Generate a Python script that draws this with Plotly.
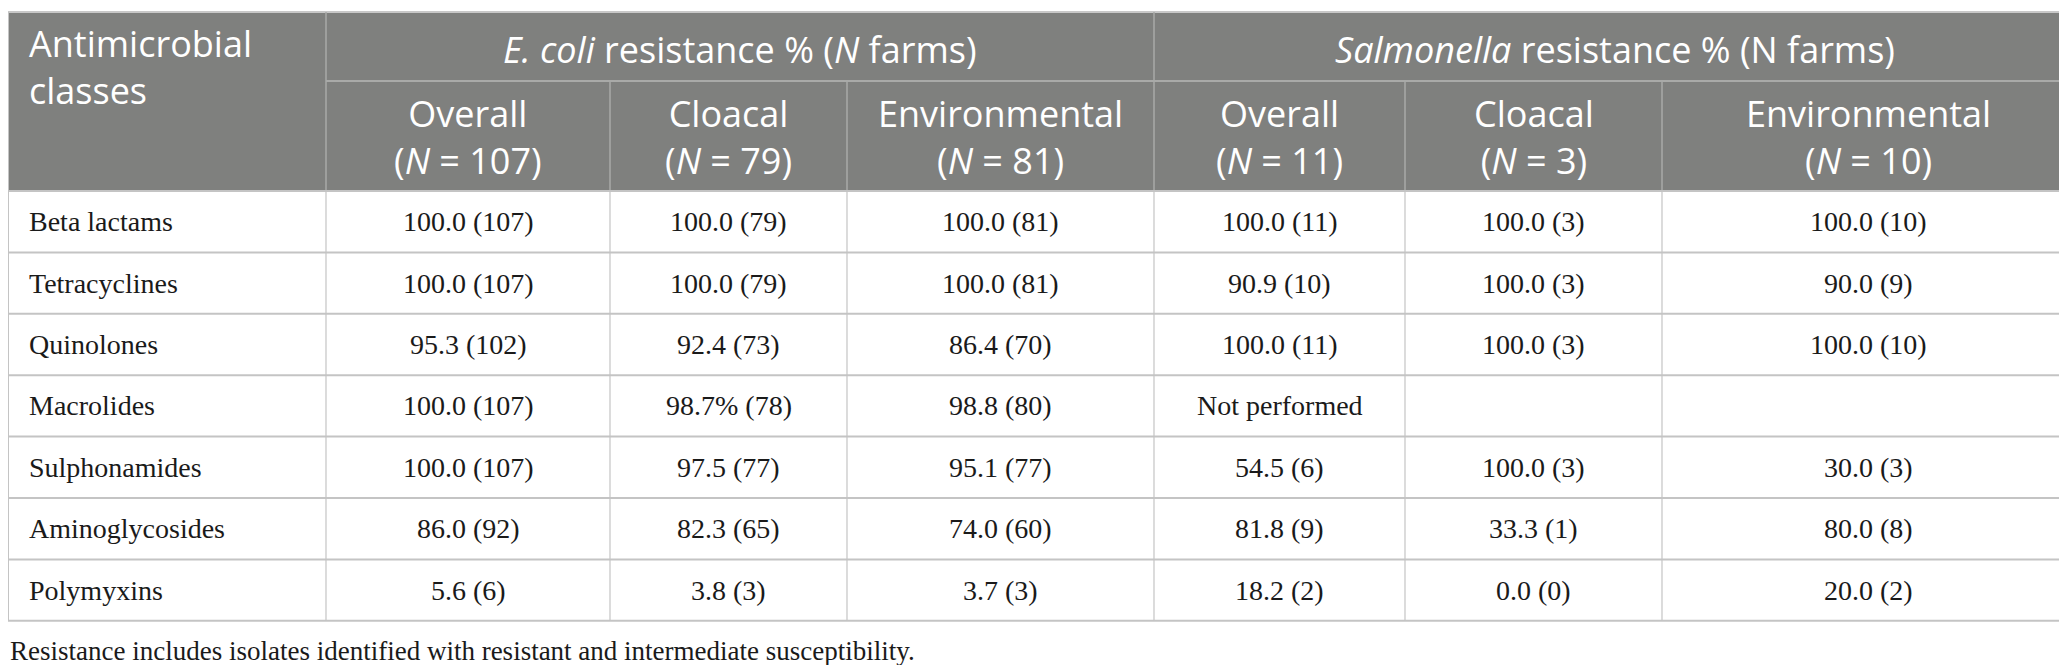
import plotly.graph_objects as go

# table content
classes = ["Beta lactams", "Tetracyclines", "Quinolones", "Macrolides",
           "Sulphonamides", "Aminoglycosides", "Polymyxins"]
ecoli_overall = ["100.0 (107)", "100.0 (107)", "95.3 (102)", "100.0 (107)",
                 "100.0 (107)", "86.0 (92)", "5.6 (6)"]
ecoli_cloacal = ["100.0 (79)", "100.0 (79)", "92.4 (73)", "98.7% (78)",
                 "97.5 (77)", "82.3 (65)", "3.8 (3)"]
ecoli_env = ["100.0 (81)", "100.0 (81)", "86.4 (70)", "98.8 (80)",
             "95.1 (77)", "74.0 (60)", "3.7 (3)"]
salm_overall = ["100.0 (11)", "90.9 (10)", "100.0 (11)", "Not performed",
                "54.5 (6)", "81.8 (9)", "18.2 (2)"]
salm_cloacal = ["100.0 (3)", "100.0 (3)", "100.0 (3)", "",
                "100.0 (3)", "33.3 (1)", "0.0 (0)"]
salm_env = ["100.0 (10)", "90.0 (9)", "100.0 (10)", "",
            "30.0 (3)", "80.0 (8)", "20.0 (2)"]

first_header = "Antimicrobial<br>classes"
group_headers = ["<i>E. coli</i> resistance % (<i>N</i> farms)",
                 "<i>Salmonella</i> resistance % (N farms)"]
sub_names = ["Overall", "Cloacal", "Environmental",
             "Overall", "Cloacal", "Environmental"]
sub_n = [107, 79, 81, 11, 3, 10]
footnote = "Resistance includes isolates identified with resistant and intermediate susceptibility."

columns = [ecoli_overall, ecoli_cloacal, ecoli_env,
           salm_overall, salm_cloacal, salm_env]

# geometry (pixels)
W, H = 2067, 665
col_widths = [318, 284, 237, 307, 251, 257, 413]
edges = [0]
for w in col_widths:
    edges.append(edges[-1] + w)
top, mid, head_bot = 4, 73, 183
row_h = 61.4

header_bg = "#7f807e"
header_line = "#a9aaa8"
body_line = "#c4c4c4"
sans = "Open Sans"
serif = "Liberation Serif"
hsize = 36
bsize = 28

fig = go.Figure()
shapes = []
ann = []

# header block
shapes.append(dict(type="rect", x0=0, x1=W, y0=top, y1=head_bot,
                   fillcolor=header_bg, line=dict(width=0), layer="below"))
shapes.append(dict(type="line", x0=0, x1=W, y0=top, y1=top,
                   line=dict(color="#c8c8c8", width=2)))
shapes.append(dict(type="line", x0=edges[1], x1=W, y0=mid, y1=mid,
                   line=dict(color=header_line, width=2)))
for x in [edges[1], edges[4]]:
    shapes.append(dict(type="line", x0=x, x1=x, y0=top, y1=head_bot,
                       line=dict(color=header_line, width=1.5)))
for x in [edges[2], edges[3], edges[5], edges[6]]:
    shapes.append(dict(type="line", x0=x, x1=x, y0=mid, y1=head_bot,
                       line=dict(color=header_line, width=1.5)))

# body grid
n = len(classes)
body_bot = head_bot + n * row_h
for i in range(n + 1):
    y = head_bot + i * row_h
    shapes.append(dict(type="line", x0=0, x1=W, y0=y, y1=y,
                       line=dict(color=body_line, width=2)))
for x in edges[1:-1]:
    shapes.append(dict(type="line", x0=x, x1=x, y0=head_bot, y1=body_bot,
                       line=dict(color=body_line, width=1.2)))
for x in [0.5, W - 0.5]:
    shapes.append(dict(type="line", x0=x, x1=x, y0=top, y1=body_bot,
                       line=dict(color=body_line, width=1)))

hfont = dict(family=sans, size=hsize, color="white")

# header text
ann.append(dict(x=19, y=59, text=first_header, xanchor="left", yanchor="middle",
                align="left", font=hfont))
for k, txt in enumerate(group_headers):
    x0, x1 = (edges[1], edges[4]) if k == 0 else (edges[4], edges[7])
    ann.append(dict(x=(x0 + x1) / 2, y=41, text=txt,
                    xanchor="center", yanchor="middle", font=hfont))
for j, (name, nn) in enumerate(zip(sub_names, sub_n)):
    xc = (edges[j + 1] + edges[j + 2]) / 2
    ann.append(dict(x=xc, y=129, text="%s<br>(<i>N</i> = %d)" % (name, nn),
                    xanchor="center", yanchor="middle", align="center", font=hfont))

# body text
bfont = dict(family=serif, size=bsize, color="#1a1a1a")
for i, name in enumerate(classes):
    yc = head_bot + (i + 0.5) * row_h
    ann.append(dict(x=19, y=yc, text=name, xanchor="left", yanchor="middle",
                    font=bfont))
    for j, col in enumerate(columns):
        if col[i]:
            ann.append(dict(x=(edges[j + 1] + edges[j + 2]) / 2, y=yc, text=col[i],
                            xanchor="center", yanchor="middle", font=bfont))

ann.append(dict(x=0, y=643, text=footnote, xanchor="left", yanchor="middle",
                font=dict(family=serif, size=27, color="#1a1a1a")))

for a in ann:
    a.update(xref="x", yref="y", showarrow=False)

fig.update_layout(
    width=W, height=H,
    margin=dict(l=0, r=0, t=0, b=0),
    paper_bgcolor="white", plot_bgcolor="white",
    shapes=shapes, annotations=ann,
    xaxis=dict(range=[0, W], visible=False, fixedrange=True),
    yaxis=dict(range=[H, 0], visible=False, fixedrange=True),
    showlegend=False,
)

fig.write_html("out.html")
